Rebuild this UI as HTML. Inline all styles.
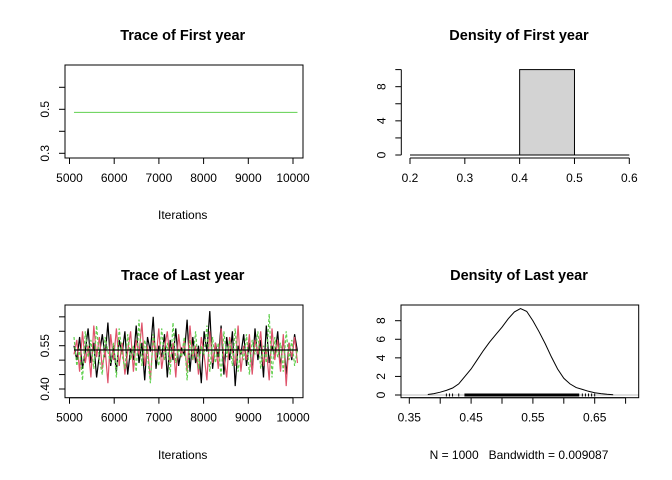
<!DOCTYPE html>
<html><head><meta charset="utf-8"><style>
html,body{margin:0;padding:0;background:#fff}
svg{display:block;font-family:"Liberation Sans",Arial,sans-serif}
</style></head><body>
<svg id="s" width="672" height="480" viewBox="0 0 672 480"></svg>
<script>
// ---- data ----
const traceFirstValue = 0.486;
const iterStart = 5100, iterEnd = 10100;
const chainBlack = [0.55,0.50,0.58,0.47,0.53,0.61,0.49,0.56,0.44,0.52,0.59,0.51,0.63,0.48,0.55,0.46,0.57,0.52,0.60,0.45,0.54,0.50,0.62,0.49,0.56,0.43,0.58,0.53,0.65,0.47,0.55,0.51,0.59,0.44,0.57,0.50,0.61,0.48,0.54,0.52,0.64,0.46,0.58,0.49,0.55,0.42,0.60,0.53,0.67,0.47,0.56,0.51,0.62,0.45,0.58,0.50,0.60,0.41,0.55,0.52,0.59,0.48,0.56,0.46,0.61,0.50,0.57,0.44,0.62,0.49,0.55,0.51,0.60,0.47,0.58,0.45,0.56,0.50,0.59,0.53];
const chainRed = [0.52,0.57,0.46,0.60,0.49,0.55,0.44,0.62,0.51,0.58,0.47,0.54,0.42,0.59,0.50,0.61,0.48,0.56,0.45,0.53,0.60,0.46,0.57,0.52,0.63,0.48,0.55,0.43,0.58,0.50,0.61,0.47,0.54,0.60,0.49,0.56,0.44,0.59,0.51,0.57,0.46,0.62,0.50,0.55,0.45,0.58,0.52,0.43,0.60,0.49,0.56,0.47,0.61,0.51,0.44,0.58,0.53,0.48,0.62,0.46,0.55,0.50,0.59,0.45,0.57,0.52,0.60,0.48,0.54,0.43,0.61,0.50,0.57,0.46,0.59,0.41,0.56,0.51,0.58,0.49];
const chainGreen = [0.58,0.48,0.54,0.43,0.60,0.51,0.57,0.47,0.62,0.50,0.45,0.58,0.53,0.49,0.56,0.44,0.61,0.52,0.47,0.59,0.50,0.55,0.46,0.64,0.48,0.57,0.52,0.42,0.59,0.53,0.48,0.61,0.50,0.56,0.45,0.63,0.49,0.54,0.51,0.58,0.43,0.57,0.50,0.60,0.47,0.55,0.52,0.62,0.46,0.58,0.49,0.56,0.44,0.60,0.51,0.57,0.48,0.61,0.46,0.54,0.50,0.59,0.45,0.57,0.52,0.60,0.47,0.55,0.49,0.66,0.44,0.58,0.51,0.56,0.46,0.60,0.50,0.57,0.48,0.54];
const runningMean = 0.535;
const densX = [0.38,0.39,0.40,0.41,0.42,0.43,0.44,0.45,0.46,0.47,0.48,0.49,0.50,0.51,0.52,0.53,0.54,0.55,0.56,0.57,0.58,0.59,0.60,0.61,0.62,0.63,0.64,0.65,0.66,0.67,0.68];
const densY = [0.05,0.15,0.3,0.5,0.75,1.2,2.0,2.8,3.8,4.8,5.7,6.5,7.3,8.2,8.95,9.3,9.0,8.0,6.8,5.5,4.1,2.8,1.8,1.2,0.8,0.6,0.4,0.25,0.15,0.08,0.03];
const histBreaks = [0.4,0.5];
const histHeight = [10];
const traceXTicks = [5000,6000,7000,8000,9000,10000];
const firstYTicks = [0.3,0.4,0.5,0.6];
const firstYLabels = ["0.3","","0.5",""];
const lastYTicks = [0.40,0.45,0.50,0.55,0.60,0.65];
const lastYLabels = ["0.40","","","0.55","",""];
const histXTicks = [0.2,0.3,0.4,0.5,0.6];
const histYTicks = [0,2,4,6,8,10];
const histYLabels = ["0","","4","","8",""];
const densXTicks = [0.35,0.40,0.45,0.50,0.55,0.60,0.65,0.70];
const densXLabels = ["0.35","","0.45","","0.55","","0.65",""];
const densYTicks = [0,2,4,6,8];

const S=document.getElementById('s');const NS='http://www.w3.org/2000/svg';
function mk(t,a,p,name){const e=document.createElementNS(NS,t);for(const k in a)e.setAttribute(k,a[k]);


(p||S).appendChild(e);return e;}
function txt(x,y,s,opt,name){const e=mk('text',Object.assign({x:x,y:y,'text-anchor':'middle','font-size':12,fill:'#000'},opt||{}),null,name);e.textContent=s;return e;}
function lin(a,b){return v=>a[1]+(v-a[0])*(b[1]-a[1])/(b[0]-a[0]);}
function xaxis(xs,ticks,labels,y0,name){mk('line',{x1:xs(ticks[0]),x2:xs(ticks[ticks.length-1]),y1:y0,y2:y0,stroke:'#000'},null,name+'-line');
ticks.forEach((t,i)=>{mk('line',{x1:xs(t),x2:xs(t),y1:y0,y2:y0+6,stroke:'#000'},null,name+'-tick');
if(labels[i])txt(xs(t),y0+24,labels[i],{},name+'-label');});}
function yaxis(ys,ticks,labels,x0,name){mk('line',{x1:x0,x2:x0,y1:ys(ticks[0]),y2:ys(ticks[ticks.length-1]),stroke:'#000'},null,name+'-line');
ticks.forEach((t,i)=>{mk('line',{x1:x0,x2:x0-6,y1:ys(t),y2:ys(t),stroke:'#000'},null,name+'-tick');
if(labels[i]){const yy=ys(t);txt(x0-16,yy,labels[i],{transform:`rotate(-90 ${x0-16} ${yy})`},name+'-label');}});}

// ---- Panel 1: trace first ----
{const xs=lin([5000,69.5],[10000,293]);const ys=lin([0.3,153.3],[0.5,109.3]);
txt(182.7,40,'Trace of First year',{'font-weight':'bold','font-size':14.5},'trace-first-title');
mk('rect',{x:65,y:65,width:238,height:93,fill:'none',stroke:'#000'},null,'trace-first-box');
mk('line',{x1:xs(iterStart),x2:xs(iterEnd),y1:ys(traceFirstValue),y2:ys(traceFirstValue),stroke:'#61D04F'},null,'trace-first-line');
xaxis(xs,traceXTicks,traceXTicks.map(String),158,'trace-first-x-axis');
yaxis(ys,firstYTicks,firstYLabels,65,'trace-first-y-axis');
txt(182.7,219,'Iterations',{},'trace-first-x-title');}

// ---- Panel 2: hist first ----
{const xs=lin([0.2,410],[0.6,629.3]);const ys=lin([0,155],[10,69.6]);
txt(519,40,'Density of First year',{'font-weight':'bold','font-size':14.5},'density-first-title');
mk('line',{x1:xs(0.2),x2:xs(0.6),y1:ys(0),y2:ys(0),stroke:'#000'},null,'density-first-baseline');
histHeight.forEach((h,i)=>mk('rect',{x:xs(histBreaks[i]),y:ys(h),width:xs(histBreaks[i+1])-xs(histBreaks[i]),height:ys(0)-ys(h),fill:'#D3D3D3',stroke:'#000'},null,'hist-bar'));
xaxis(xs,histXTicks,histXTicks.map(String),158,'density-first-x-axis');
yaxis(ys,histYTicks,histYLabels,401.3,'density-first-y-axis');}

// ---- Panel 3: trace last ----
{const xs=lin([5000,69.5],[10000,293]);const ys=lin([0.40,389],[0.55,345.7]);
txt(182.7,280,'Trace of Last year',{'font-weight':'bold','font-size':14.5},'trace-last-title');
const chains=[[chainBlack,'#000','none'],[chainRed,'#DF536B','none'],[chainGreen,'#61D04F','3,2']];
chains.forEach(([d,c,da],k)=>{const step=(iterEnd-iterStart)/(d.length-1);
mk('polyline',{points:d.map((v,i)=>xs(iterStart+i*step).toFixed(1)+','+ys(v).toFixed(1)).join(' '),fill:'none',stroke:c,'stroke-width':1.2,'stroke-dasharray':da},null,'trace-chain-'+k);});
mk('line',{x1:xs(iterStart),x2:xs(iterEnd),y1:ys(runningMean),y2:ys(runningMean),stroke:'#000','stroke-width':1.2},null,'running-mean-line');
mk('rect',{x:65,y:305,width:238,height:92.7,fill:'none',stroke:'#000'},null,'trace-last-box');
xaxis(xs,traceXTicks,traceXTicks.map(String),397.7,'trace-last-x-axis');
yaxis(ys,lastYTicks,lastYLabels,65,'trace-last-y-axis');
txt(182.7,459,'Iterations',{},'trace-last-x-title');}

// ---- Panel 4: density last ----
{const xs=lin([0.35,409.3],[0.65,594.7]);const ys=lin([0,395],[8,320.7]);
txt(519,280,'Density of Last year',{'font-weight':'bold','font-size':14.5},'density-last-title');
mk('line',{x1:401,x2:638.7,y1:ys(0),y2:ys(0),stroke:'#BEBEBE'},null,'zero-line');
mk('polyline',{points:densX.map((v,i)=>xs(v).toFixed(1)+','+ys(densY[i]).toFixed(1)).join(' '),fill:'none',stroke:'#000'},null,'density-curve');
mk('line',{x1:xs(0.44),x2:xs(0.625),y1:ys(0),y2:ys(0),stroke:'#000','stroke-width':3},null,'rug');
[0.41,0.415,0.42,0.43,0.44,0.63,0.635,0.64,0.645,0.65].forEach(v=>mk('line',{x1:xs(v),x2:xs(v),y1:ys(0)-1.5,y2:ys(0)+1.5,stroke:'#000'},null,'rug-tick'));
mk('rect',{x:401,y:305,width:237.7,height:92.7,fill:'none',stroke:'#000'},null,'density-last-box');
xaxis(xs,densXTicks,densXLabels,397.7,'density-last-x-axis');
yaxis(ys,densYTicks,densYTicks.map(String),401,'density-last-y-axis');
txt(519,459,'N = 1000   Bandwidth = 0.009087',{style:'white-space:pre'},'density-last-x-title');}
</script>
</body></html>
